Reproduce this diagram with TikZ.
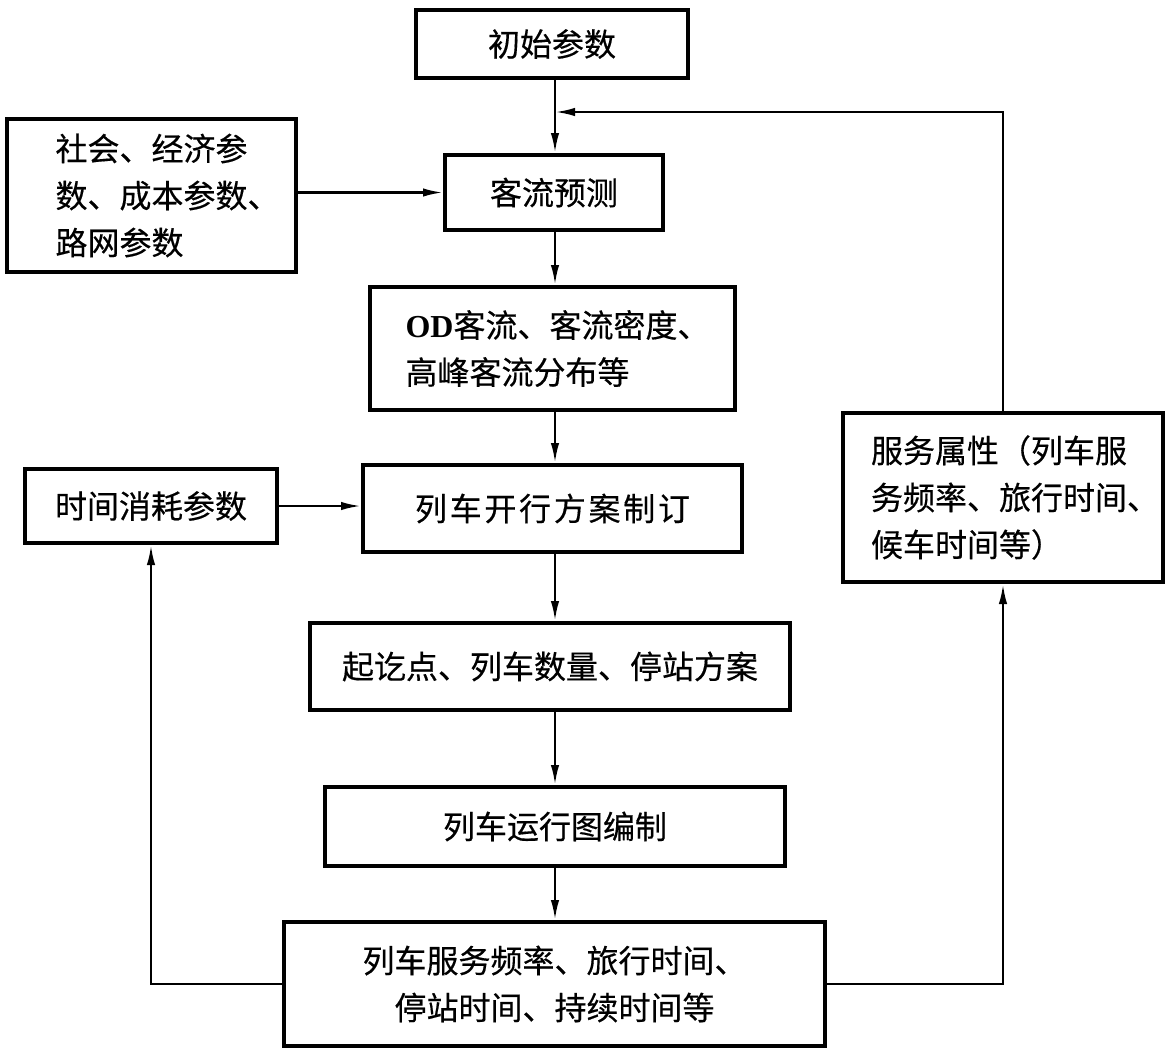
\documentclass[tikz,border=0pt]{standalone}
\usepackage{fontspec}
\setmainfont{Noto Sans CJK SC}[FakeBold=0.4]
\newfontfamily\cjkwide[LetterSpace=8.5,FakeBold=0.4]{Noto Sans CJK SC}
\newfontfamily\latinfont{Liberation Serif}
\usetikzlibrary{arrows.meta}
\begin{document}
\begin{tikzpicture}[x=0.5pt,y=-0.5pt,
  box/.style={draw, line width=2pt, inner sep=0pt, font=\fontsize{16}{23.5}\selectfont},
  arr/.style={line width=1.2pt, -{Latex[length=10pt,width=4.2pt]}},
  ln/.style={line width=1.2pt}]
\useasboundingbox (0,0) rectangle (1169,1056);
\node[box, minimum width=136pt, minimum height=34pt] (a) at (552,44) {初始参数};
\node[box, minimum width=144.5pt, minimum height=76.5pt, text width=96pt, align=left] (b) at (151.5,195.5) {社会、经济参\\数、成本参数、\\路网参数};
\node[box, minimum width=109pt, minimum height=37.5pt] (c) at (554,192.5) {客流预测};
\node[box, minimum width=182.5pt, minimum height=61.5pt, text width=147pt, align=left] (d) at (552.5,348.5) {{\latinfont\bfseries OD}客流、客流密度、\\高峰客流分布等};
\node[box, minimum width=189.5pt, minimum height=43.5pt] (e) at (552.5,508.5) {\cjkwide 列车开行方案制订};
\node[box, minimum width=126pt, minimum height=37pt] (f) at (151,506) {时间消耗参数};
\node[box, minimum width=160pt, minimum height=84.5pt, text width=132pt, align=left] (g) at (1003,497.5) {服务属性（列车服\\务频率、旅行时间、\\候车时间等）};
\node[box, minimum width=240pt, minimum height=43.5pt] (h) at (550,666.5) {起讫点、列车数量、停站方案};
\node[box, minimum width=230pt, minimum height=39.5pt] (i) at (555,826.5) {列车运行图编制};
\node[box, minimum width=270.5pt, minimum height=62pt, align=center] (j) at (554.5,984) {列车服务频率、旅行时间、\\停站时间、持续时间等};
\coordinate (X) at (555,0);
\coordinate (fb) at (555,112);
\draw[arr] (a.south -| X) -- (c.north -| X);
\draw[arr] (c.south -| X) -- (d.north -| X);
\draw[arr] (d.south -| X) -- (e.north -| X);
\draw[arr] (e.south -| X) -- (h.north -| X);
\draw[arr] (h.south -| X) -- (i.north -| X);
\draw[arr] (i.south -| X) -- (j.north -| X);
\draw[arr] (b.east |- c.west) -- (c.west);
\draw[arr] (f.east) -- (f.east -| e.west);
\draw[arr] (g.north) |- (fb);
\draw[arr] (j.east) -| (g.south);
\draw[arr] (j.west) -| (f.south);
\end{tikzpicture}
\end{document}
